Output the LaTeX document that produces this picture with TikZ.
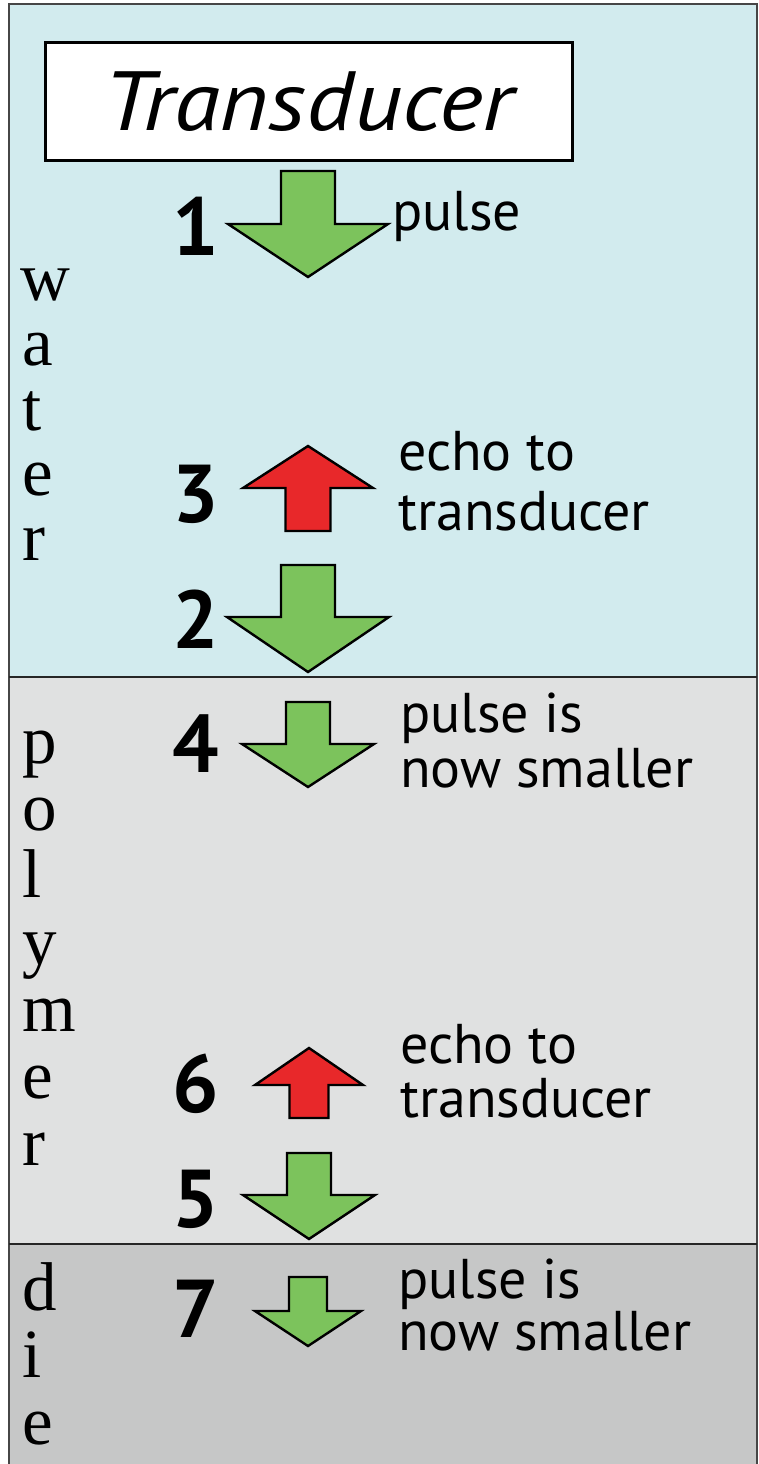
\documentclass[tikz,border=0pt]{standalone}
\usepackage{fontspec}
\setmainfont{Liberation Serif}
\newfontfamily\lblfont{PT Sans}
\definecolor{waterc}{RGB}{210,235,238}
\definecolor{polyc}{RGB}{224,225,225}
\definecolor{diec}{RGB}{198,199,199}
\definecolor{arrgreen}{RGB}{124,195,92}
\definecolor{arrred}{RGB}{232,40,42}
\definecolor{framec}{RGB}{70,70,70}
\newcommand\myarrow[7]{%
  \filldraw[arrowline, fill=#1] (#2-#6,#3) -- (#2+#6,#3) -- (#2+#6,#4) -- (#2+#7,#4) -- (#2,#5) -- (#2-#7,#4) -- (#2-#6,#4) -- cycle;}
\tikzset{
  arrowline/.style={draw=black, line width=2.4pt, line join=miter},
  lbl/.style={anchor=base west, inner sep=0pt, font=\lblfont\fontsize{56}{60}\selectfont},
  num/.style={anchor=base, inner sep=0pt, font=\lblfont\bfseries\fontsize{82}{82}\selectfont},
  vletter/.style={anchor=base west, inner sep=0pt, font=\fontsize{69}{69}\selectfont},
  divider/.style={draw=black!85, line width=2.5pt},
}
\begin{document}
\begin{tikzpicture}[x=1pt,y=-1pt]
\useasboundingbox (0,0) rectangle (758,1464);
\fill[white] (0,0) rectangle (758,1464);
% regions
\fill[waterc] (9,4) rectangle (757,677);
\fill[polyc] (9,677) rectangle (757,1244);
\fill[diec] (9,1244) rectangle (757,1464);
\draw[framec, line width=1.5pt] (9,1464) -- (9,4) -- (757,4) -- (757,1464);
\draw[divider] (9,677) -- (757,677);
\draw[divider] (9,1244) -- (757,1244);
% transducer box
\node[draw=black, line width=3pt, fill=white, minimum width=527pt, minimum height=117pt, inner sep=0pt,
      font=\lblfont\itshape\fontsize{84}{84}\selectfont] (tr) at (308.5,101.5) {\raisebox{-4pt}{\scalebox{1.12}[1]{Transducer}}};
% arrows
\myarrow{arrgreen}{308}{171}{224}{277}{27}{80}
\myarrow{arrred}{308}{531}{488}{446}{22.5}{65}
\myarrow{arrgreen}{308}{565}{617}{672}{27}{81}
\myarrow{arrgreen}{308}{702}{744}{787}{22}{66}
\myarrow{arrred}{309}{1118}{1085}{1048}{19.5}{54}
\myarrow{arrgreen}{309}{1153}{1195}{1239}{22}{66}
\myarrow{arrgreen}{308}{1277}{1311}{1346}{19}{53}
% numbers
\node[num] (n1) at (196,255) {1};
\node[num] (n3) at (196,522) {3};
\node[num] (n2) at (196,648) {2};
\node[num] (n4) at (196,772) {4};
\node[num] (n6) at (196,1112) {6};
\node[num] (n5) at (196,1227) {5};
\node[num] (n7) at (196,1337) {7};
% labels
\node[lbl] (l1) at (392,230) {pulse};
\node[lbl] (l3a) at (398,470) {echo to};
\node[lbl] (l3b) at (398,530) {transducer};
\node[lbl] (l4a) at (400,732) {pulse is};
\node[lbl] (l4b) at (400,787) {now smaller};
\node[lbl] (l6a) at (400,1063) {echo to};
\node[lbl] (l6b) at (400,1117) {transducer};
\node[lbl] (l7a) at (398,1298) {pulse is};
\node[lbl] (l7b) at (398,1350) {now smaller};
% vertical words
\node[vletter] (w1) at (20,300) {w};
\node[vletter] (w2) at (22,365) {a};
\node[vletter] (w3) at (22,430) {t};
\node[vletter] (w4) at (22,495) {e};
\node[vletter] (w5) at (22,560) {r};
\node[vletter] (p1) at (22,763) {p};
\node[vletter] (p2) at (22,830) {o};
\node[vletter] (p3) at (22,897) {l};
\node[vletter] (p4) at (22,964) {y};
\node[vletter] (p5) at (22,1031) {m};
\node[vletter] (p6) at (22,1098) {e};
\node[vletter] (p7) at (22,1165) {r};
\node[vletter] (d1) at (22,1310) {d};
\node[vletter] (d2) at (22,1377) {i};
\node[vletter] (d3) at (22,1444) {e};
\end{tikzpicture}
\end{document}
